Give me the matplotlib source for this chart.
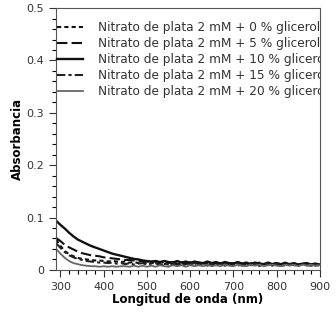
import matplotlib.pyplot as plt
from matplotlib.ticker import MultipleLocator

# data
wavelength = list(range(290, 910, 10))

glic_0 = [0.058, 0.046, 0.036, 0.030, 0.026, 0.023, 0.021, 0.020, 0.019, 0.018,
          0.018, 0.017, 0.016, 0.017, 0.016, 0.015, 0.016, 0.014, 0.015, 0.013,
          0.014, 0.012, 0.014, 0.011, 0.013, 0.011, 0.014, 0.010, 0.013, 0.009,
          0.012, 0.010, 0.014, 0.009, 0.011, 0.013, 0.008, 0.011, 0.013, 0.009,
          0.010, 0.013, 0.008, 0.011, 0.013, 0.008, 0.011, 0.008, 0.012, 0.009,
          0.011, 0.013, 0.008, 0.011, 0.009, 0.012, 0.008, 0.011, 0.009, 0.012,
          0.008, 0.010]
glic_5 = [0.061, 0.055, 0.048, 0.043, 0.039, 0.035, 0.032, 0.030, 0.028, 0.027,
          0.026, 0.024, 0.023, 0.022, 0.021, 0.020, 0.019, 0.019, 0.018, 0.017,
          0.017, 0.016, 0.015, 0.016, 0.014, 0.015, 0.013, 0.015, 0.012, 0.014,
          0.012, 0.015, 0.011, 0.014, 0.012, 0.015, 0.011, 0.013, 0.010, 0.014,
          0.012, 0.010, 0.014, 0.012, 0.010, 0.013, 0.011, 0.014, 0.010, 0.012,
          0.009, 0.013, 0.011, 0.014, 0.009, 0.012, 0.010, 0.013, 0.009, 0.011,
          0.012, 0.010]
glic_10 = [0.094, 0.086, 0.079, 0.071, 0.064, 0.058, 0.054, 0.050, 0.046, 0.043,
           0.040, 0.037, 0.034, 0.031, 0.029, 0.027, 0.025, 0.023, 0.021, 0.020,
           0.018, 0.017, 0.016, 0.017, 0.015, 0.017, 0.015, 0.014, 0.017, 0.014,
           0.016, 0.013, 0.016, 0.014, 0.013, 0.016, 0.013, 0.015, 0.012, 0.015,
           0.013, 0.012, 0.015, 0.012, 0.014, 0.011, 0.014, 0.012, 0.011, 0.014,
           0.011, 0.013, 0.010, 0.013, 0.011, 0.013, 0.010, 0.012, 0.013, 0.010,
           0.012, 0.010]
glic_15 = [0.051, 0.042, 0.034, 0.028, 0.024, 0.021, 0.019, 0.017, 0.016, 0.015,
           0.014, 0.014, 0.013, 0.014, 0.012, 0.013, 0.011, 0.013, 0.010, 0.012,
           0.013, 0.010, 0.012, 0.013, 0.009, 0.012, 0.010, 0.013, 0.009, 0.011,
           0.008, 0.012, 0.013, 0.009, 0.011, 0.008, 0.012, 0.009, 0.013, 0.008,
           0.011, 0.009, 0.012, 0.008, 0.011, 0.009, 0.012, 0.008, 0.010, 0.012,
           0.008, 0.011, 0.009, 0.008, 0.011, 0.009, 0.008, 0.011, 0.009, 0.008,
           0.010, 0.008]
glic_20 = [0.040, 0.031, 0.023, 0.017, 0.013, 0.011, 0.009, 0.008, 0.007, 0.007,
           0.006, 0.007, 0.006, 0.007, 0.006, 0.007, 0.007, 0.006, 0.008, 0.006,
           0.008, 0.006, 0.008, 0.006, 0.009, 0.007, 0.006, 0.009, 0.007, 0.009,
           0.006, 0.009, 0.007, 0.009, 0.007, 0.010, 0.007, 0.009, 0.007, 0.010,
           0.008, 0.007, 0.010, 0.008, 0.007, 0.010, 0.008, 0.010, 0.007, 0.009,
           0.010, 0.008, 0.007, 0.010, 0.008, 0.010, 0.007, 0.010, 0.008, 0.010,
           0.008, 0.009]

labels = ['Nitrato de plata 2 mM + 0 % glicerol',
          'Nitrato de plata 2 mM + 5 % glicerol',
          'Nitrato de plata 2 mM + 10 % glicerol',
          'Nitrato de plata 2 mM + 15 % glicerol',
          'Nitrato de plata 2 mM + 20 % glicerol']

series = [glic_0, glic_5, glic_10, glic_15, glic_20]
styles = [((0, (2, 1.5)), '#111111', 1.5),
          ((0, (5, 2)), '#111111', 1.5),
          ('-', '#111111', 1.7),
          ((0, (4, 1.5, 1.5, 1.5)), '#222222', 1.5),
          ('-', '#666666', 1.3)]

fig = plt.figure(figsize=(3.36, 3.24), dpi=100)
ax = fig.add_axes([0.167, 0.167, 0.785, 0.808])

for y, lab, (ls, col, lw) in zip(series, labels, styles):
    ax.plot(wavelength, y, linestyle=ls, color=col, linewidth=lw, label=lab)

ax.set_xlim(290, 900)
ax.set_ylim(0, 0.5)
ax.xaxis.set_major_locator(MultipleLocator(100))
ax.xaxis.set_minor_locator(MultipleLocator(20))
ax.yaxis.set_minor_locator(MultipleLocator(0.02))
ax.set_yticks([0, 0.1, 0.2, 0.3, 0.4, 0.5])
ax.set_yticklabels(['0', '0.1', '0.2', '0.3', '0.4', '0.5'])
ax.tick_params(labelsize=8, colors='#333333', width=0.8, length=5)
ax.tick_params(which='minor', length=3, width=0.8)
for s in ax.spines.values():
    s.set_color('#555555')
    s.set_linewidth(0.8)

ax.set_xlabel('Longitud de onda (nm)', fontsize=8.5, fontweight='bold', labelpad=1)
ax.set_ylabel('Absorbancia', fontsize=8.5, fontweight='bold', labelpad=2)

leg = ax.legend(loc='upper left', frameon=False, fontsize=8.7,
                handlelength=2.1, handletextpad=1.3, labelspacing=0.25,
                borderaxespad=0, borderpad=0.1, bbox_to_anchor=(0.0, 0.954))

# legend labels run past the right spine in the original: cut them there
for t in leg.get_texts():
    t.set_color('#333333')
    t.set_clip_on(True)
    t.set_clip_box(ax.bbox)

fig.savefig('out.png', dpi=100)
